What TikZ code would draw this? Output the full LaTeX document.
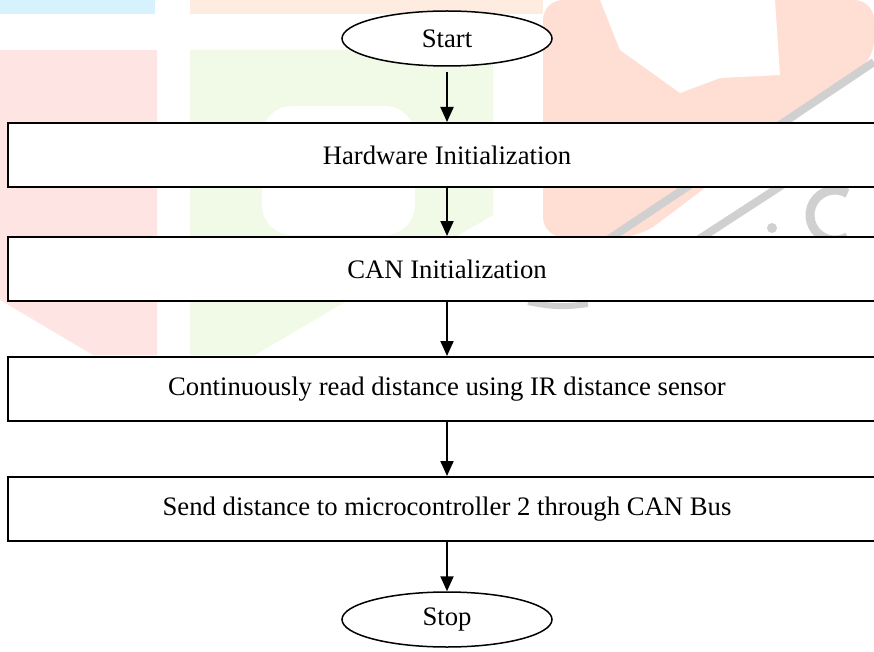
\documentclass[tikz,border=0pt]{standalone}
\usepackage{fontspec}
\setmainfont{Liberation Serif}
\usetikzlibrary{arrows.meta,shapes.geometric}

\definecolor{wmcyan}{RGB}{214,242,252}
\definecolor{wmpeach}{RGB}{255,236,224}
\definecolor{wmred}{RGB}{255,228,228}
\definecolor{wmsalmon}{RGB}{255,222,212}
\definecolor{wmgreen}{RGB}{240,250,230}
\definecolor{wmgrey}{RGB}{208,208,208}

\begin{document}
\begin{tikzpicture} [
                    x=1pt, y=-1pt,
                    term/.style={draw, ellipse, line width=1.5pt, fill=white, minimum width={210pt}, minimum height={55pt}, inner sep=0pt, font=\fontsize{26.7}{32}\selectfont},
                    proc/.style={draw, rectangle, line width=2pt, fill=white, minimum width={878pt}, minimum height={64pt}, inner sep=0pt, font=\fontsize{26.7}{32}\selectfont},
                    flow/.style={-{Triangle[length=15pt,width=13pt]}, line width=2pt}
                ]
                \useasboundingbox (0,0) rectangle (874,652);
                \clip (0,0) rectangle (874,652);
                % faded watermark behind the chart
                \fill [wmcyan] (0,0) rectangle (155,14);
                \fill [wmpeach] (190,0) rectangle (543,14);
                \fill [wmred] (0,50) -- (157,50) -- (157,355) -- (93,355) -- (0,300) -- cycle;
                \fill [wmgreen] (190,50) -- (493,50) -- (493,215) -- (255,355) -- (190,355) -- cycle;
                \fill [white, rounded corners=30pt] (262,106) rectangle (415,235);
                \fill [wmsalmon, rounded corners=20pt] (543,0) -- (874,0) -- (874,60) -- (640,237) -- (543,237) -- cycle;
                \fill [white] (600,0) -- (775,0) -- (780,75) -- (720,78) -- (680,93) -- (620,50) -- cycle;
                \draw [wmgrey, line width=8pt] (874,62) -- (600,245);
                \draw [wmgrey, line width=8pt] (790,180) -- (690,245);
                \draw [wmgrey, line width=9pt] (847.5,193.4) arc (60:300:25pt);
                \fill [wmgrey] (772,228) circle (5pt);
                \draw [wmgrey, line width=6pt] (528,302) to[bend right=10] (588,304);

                \node [term] (start) at (447,38.5) {Start};
                \node [proc] (hwinit) at (447,155) {Hardware Initialization};
                \node [proc] (caninit) at (447,269) {CAN Initialization};
                \node [proc] (readir) at (447,389) {Continuously read distance using IR distance sensor};
                \node [proc] (sendcan) at (447,509) {Send distance to microcontroller 2 through CAN Bus};
                \node [term] (stop) at (447,619.5) {Stop};

                \draw [flow] ([yshift=-5pt]start.south) -- (hwinit.north);
                \draw [flow] (hwinit) -- (caninit);
                \draw [flow] (caninit) -- (readir);
                \draw [flow] (readir) -- (sendcan);
                \draw [flow] (sendcan) -- (stop);
                \end{tikzpicture}
\end{document}
